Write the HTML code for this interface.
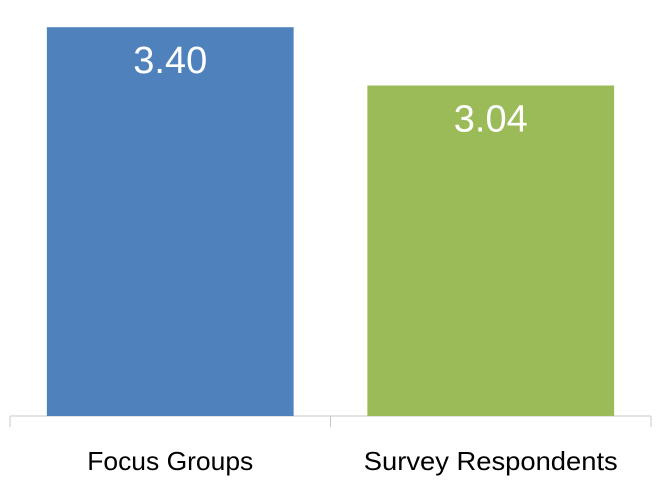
<!DOCTYPE html>
<html><head><meta charset="utf-8"><style>html,body{margin:0;padding:0;background:#fff}svg{display:block}</style></head>
<body>
<svg id="chart" width="661" height="481" xmlns="http://www.w3.org/2000/svg" font-family="'Liberation Sans', sans-serif">
<line x1="10" y1="416" x2="651" y2="416" stroke="#c8c8c8" stroke-width="1"/>
<g id="ticks"></g>
<g id="bars"></g>
</svg>
<script>
const categories = ["Focus Groups", "Survey Respondents"];
const values = [3.40, 3.04];
const valueLabels = ["3.40", "3.04"];
const colors = ["#4f81bd", "#9bbb59"];
const yMin = 1, yMax = 3.5;
const plotTop = 11, plotBottom = 416, plotLeft = 10, plotRight = 651;
const ns = "http://www.w3.org/2000/svg";
function y(v){ return plotBottom - (v - yMin) / (yMax - yMin) * (plotBottom - plotTop); }
const band = (plotRight - plotLeft) / categories.length;
function xCenter(i){ return plotLeft + band * (i + 0.5); }
const barW = band * 0.77;
const ticks = document.getElementById('ticks');
for (let i = 0; i <= categories.length; i++) {
  const t = document.createElementNS(ns, 'line');
  
  
  const x = plotLeft + band * i;
  t.setAttribute('x1', x); t.setAttribute('x2', x);
  t.setAttribute('y1', plotBottom); t.setAttribute('y2', plotBottom + 11);
  t.setAttribute('stroke', '#c8c8c8');
  ticks.appendChild(t);
}
const g = document.getElementById('bars');
const labelLens = [166, 254];
categories.forEach((c, i) => {
  const r = document.createElementNS(ns, 'rect');
  
  
  r.setAttribute('x', xCenter(i) - barW / 2);
  r.setAttribute('width', barW);
  r.setAttribute('y', y(values[i]));
  r.setAttribute('height', plotBottom - y(values[i]));
  r.setAttribute('fill', colors[i]);
  g.appendChild(r);
  const vt = document.createElementNS(ns, 'text');
  
  
  vt.setAttribute('x', xCenter(i));
  vt.setAttribute('y', y(values[i]) + 46);
  vt.setAttribute('text-anchor', 'middle');
  vt.setAttribute('fill', '#fff');
  vt.setAttribute('font-size', '38');
  vt.textContent = valueLabels[i];
  g.appendChild(vt);
  const ct = document.createElementNS(ns, 'text');
  
  
  ct.setAttribute('x', xCenter(i));
  ct.setAttribute('y', 470);
  ct.setAttribute('text-anchor', 'middle');
  ct.setAttribute('fill', '#000');
  ct.setAttribute('font-size', '26');
  ct.setAttribute('textLength', labelLens[i]);
  ct.setAttribute('lengthAdjust', 'spacingAndGlyphs');
  ct.textContent = c;
  g.appendChild(ct);
});
</script>
</body></html>
